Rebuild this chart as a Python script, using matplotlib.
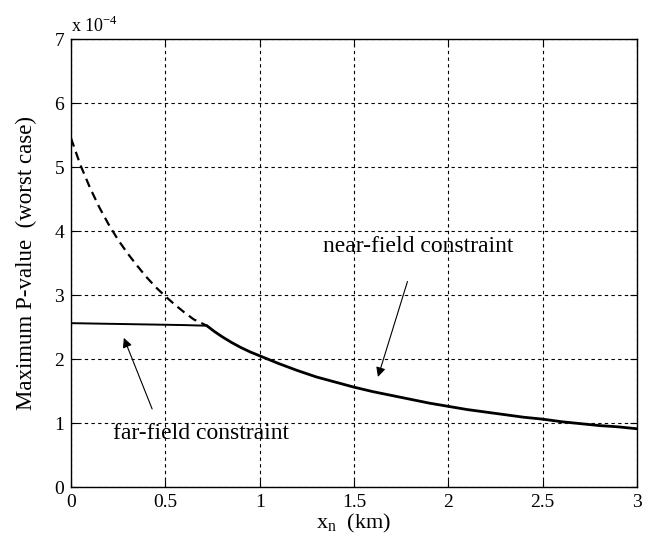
import matplotlib
matplotlib.use("Agg")
import matplotlib.pyplot as plt

# data (values in units of 1e-4)
near_x = [0.0, 0.05, 0.1, 0.15, 0.2, 0.25, 0.3, 0.35, 0.4, 0.45, 0.5, 0.55, 0.6, 0.65, 0.72]
near_y = [5.45, 5.03, 4.68, 4.37, 4.10, 3.86, 3.65, 3.46, 3.28, 3.12, 2.98, 2.85, 2.73, 2.62, 2.52]
near_solid_x = [0.72, 0.76, 0.8, 0.85, 0.9, 0.95, 1.0, 1.1, 1.2, 1.3, 1.4, 1.5, 1.6, 1.7,
                1.8, 1.9, 2.0, 2.1, 2.2, 2.3, 2.4, 2.5, 2.6, 2.7, 2.8, 2.9, 3.0]
near_solid_y = [2.52, 2.43, 2.35, 2.26, 2.18, 2.11, 2.05, 1.93, 1.82, 1.72, 1.64, 1.56,
                1.49, 1.43, 1.37, 1.31, 1.26, 1.21, 1.17, 1.13, 1.09, 1.06, 1.02, 0.99,
                0.96, 0.94, 0.91]
far_x = [0.0, 0.2, 0.4, 0.6, 0.72]
far_y = [2.56, 2.55, 2.54, 2.53, 2.52]
xticks = [0, 0.5, 1, 1.5, 2, 2.5, 3]
xticklabels = ["0", "0.5", "1", "1.5", "2", "2.5", "3"]
yticks = [0, 1, 2, 3, 4, 5, 6, 7]

plt.rcParams['font.family'] = ['Liberation Serif', 'DejaVu Serif']

fig = plt.figure(figsize=(6.72, 5.46), dpi=100)
ax = fig.add_axes([71/672, 1-487/546, (637-71)/672, (487-39)/546])

ax.plot(near_x, near_y, color='black', lw=1.6, ls=(0, (4, 2.5)))
ax.plot(near_solid_x, near_solid_y, color='black', lw=2.0, solid_capstyle='round')
ax.plot(far_x, far_y, color='black', lw=1.4)

ax.set_xlim(0, 3)
ax.set_ylim(0, 7)
ax.set_xticks(xticks)
ax.set_xticklabels(xticklabels)
ax.set_yticks(yticks)
ax.grid(True, color='black', ls=(0, (3, 3)), lw=0.8)
ax.tick_params(direction='in', top=True, right=True, labelsize=14, length=5, pad=5)
for s in ax.spines.values():
    s.set_linewidth(1.0)

ax.set_xlabel(r"x$_\mathregular{n}$  (km)", fontsize=16, labelpad=1)
ax.set_ylabel("Maximum P-value  (worst case)", fontsize=16.5, labelpad=12)
ax.text(0.0, 1.015, r"x 10$^\mathregular{-4}$", transform=ax.transAxes, fontsize=13,
        ha='left', va='baseline')

ax.annotate("near-field constraint", xy=(1.627, 1.72), xytext=(1.84, 3.75),
            fontsize=17, ha='center', va='center',
            arrowprops=dict(arrowstyle='-|>', color='black', lw=0.8,
                            shrinkA=16, shrinkB=0, mutation_scale=14))
ax.text(0.69, 0.84, "far-field constraint", fontsize=17, ha='center', va='center')
ax.annotate("", xy=(0.28, 2.33), xytext=(0.43, 1.22),
            arrowprops=dict(arrowstyle='-|>', color='black', lw=0.8,
                            shrinkA=0, shrinkB=0, mutation_scale=14))

fig.savefig("out.png", dpi=100)
